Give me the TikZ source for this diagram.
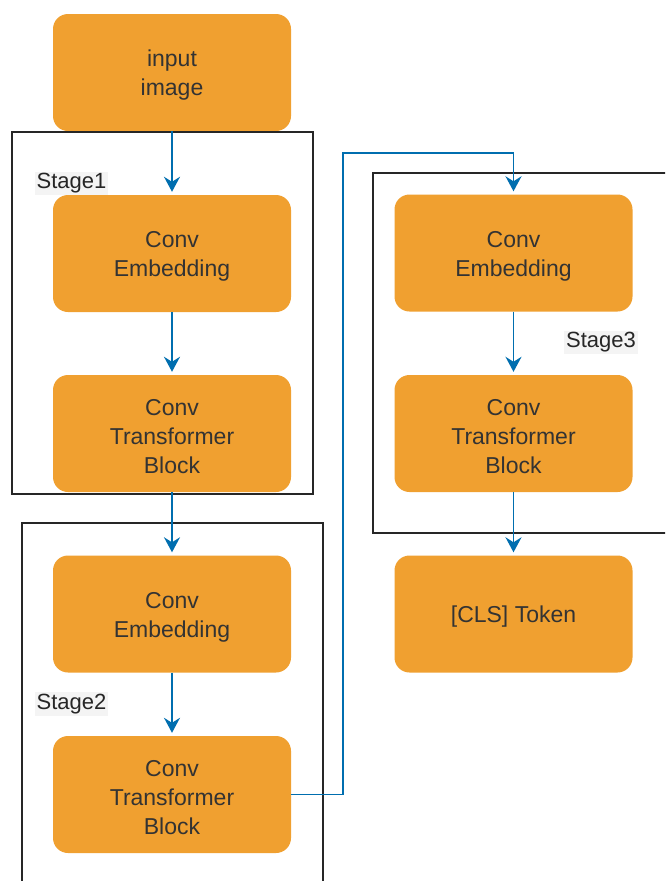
\documentclass[tikz,border=0pt]{standalone}
\usepackage{fontspec}
\setmainfont{Liberation Sans}
\usetikzlibrary{arrows.meta}
\definecolor{boxfill}{HTML}{F0A030}
\definecolor{txt}{HTML}{333333}
\definecolor{arr}{HTML}{006EAF}
\definecolor{lblbg}{HTML}{F4F4F4}
\newcommand\tup{\rule{0pt}{22pt}}
\begin{document}
\begin{tikzpicture}[x=1pt,y=-1pt,
  blk/.style={fill=boxfill, rounded corners=15pt, minimum width=238pt, minimum height=117pt, align=center, text=txt, font=\fontsize{23}{29}\selectfont, inner sep=0pt},
  frame/.style={draw=black!85, line width=1.5pt},
  lbl/.style={fill=lblbg, text=black!85, font=\fontsize{22}{26}\selectfont, inner sep=2pt},
  flow/.style={draw=arr, line width=1.9pt, -{Stealth[length=15pt,width=16pt,inset=5pt]}, shorten >=3pt}]
\clip (0,0) rectangle (665,881);
\fill[white] (0,0) rectangle (665,881);
% boxes
\node[blk] (input) at (172,72.5) {\tup input\\image};
\node[blk] (ce1) at (172,253.5) {\tup Conv\\Embedding};
\node[blk] (ctb1) at (172,433.5) {\tup Conv\\Transformer\\Block};
\node[blk] (ce2) at (172,614) {\tup Conv\\Embedding};
\node[blk] (ctb2) at (172,794.5) {\tup Conv\\Transformer\\Block};
\node[blk] (ce3) at (513.5,253) {\tup Conv\\Embedding};
\node[blk] (ctb3) at (513.5,433.5) {\tup Conv\\Transformer\\Block};
\node[blk] (cls) at (513.5,614) {\tup [CLS] Token};
% stage frames
\draw[frame] (12,132) rectangle (313,494);
\draw[frame] (22,523) rectangle (323,900);
\draw[frame] (373,173) rectangle (690,533);
% stage labels
\node[lbl] (s1) at (71.5,183.5) {Stage1};
\node[lbl] (s2) at (71.5,704) {Stage2};
\node[lbl] (s3) at (601,342.5) {Stage3};
% connectors
\draw[flow] (input.south) -- (ce1.north);
\draw[flow] (ce1.south) -- (ctb1.north);
\draw[flow] (ctb1.south) -- (ce2.north);
\draw[flow] (ce2.south) -- (ctb2.north);
\draw[flow] (ce3.south) -- (ctb3.north);
\draw[flow] (ctb3.south) -- (cls.north);
\coordinate (j1) at (343,153);
\draw[flow] (ctb2.east) -| (j1) -| (ce3.north);
\end{tikzpicture}
\end{document}
